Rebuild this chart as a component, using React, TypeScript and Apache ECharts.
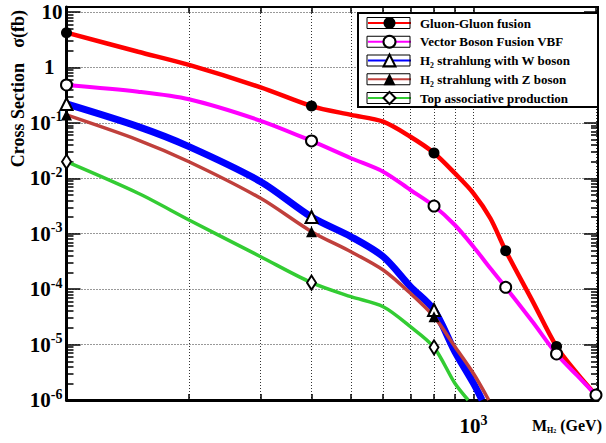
import React, { useEffect, useRef } from "react";
import * as echarts from "echarts";

// ---- data ----
const markerMasses = [100, 400, 800, 1200, 1600, 2000];

const ggfMass = [100, 150, 200, 300, 400, 500, 600, 700, 800, 900, 1000, 1100, 1200, 1400, 1600, 1800, 2000];
const ggfXsec = [4.24, 1.92, 1.11, 0.437, 0.201, 0.139, 0.105, 0.0562, 0.0286, 0.0123, 0.00536, 0.0019, 4.93e-4, 5.9e-5, 9.2e-6, 3.0e-6, 1.23e-6];

const vbfMass = [100, 150, 200, 300, 400, 500, 600, 700, 800, 900, 1000, 1100, 1200, 1400, 1600, 1800, 2000];
const vbfXsec = [0.482, 0.365, 0.266, 0.109, 0.0471, 0.023, 0.01315, 0.00615, 0.00316, 0.001436, 5.83e-4, 2.38e-4, 1.08e-4, 2.52e-5, 6.76e-6, 2.74e-6, 1.23e-6];

const whMass = [100, 150, 200, 300, 400, 500, 600, 700, 800, 900, 1000, 1050];
const whXsec = [0.219, 0.0853, 0.0372, 0.00867, 0.002, 8.83e-4, 3.85e-4, 1.11e-4, 4.2e-5, 7.5e-6, 2.0e-6, 1.0e-6];

const zhMass = [100, 150, 200, 300, 400, 500, 600, 700, 800, 900, 1000, 1090];
const zhXsec = [0.139, 0.049, 0.0199, 0.00435, 0.00109, 4.73e-4, 2.21e-4, 8.4e-5, 3.18e-5, 9.2e-6, 3.0e-6, 1.0e-6];

const ttMass = [100, 150, 200, 300, 400, 500, 600, 700, 800, 900, 970];
const ttXsec = [0.0199, 0.00536, 0.00177, 3.85e-4, 1.31e-4, 7.3e-5, 4.82e-5, 2.1e-5, 8.9e-6, 2.0e-6, 1.0e-6];

const xGridMasses = [200, 300, 400, 500, 600, 700, 800, 900, 1000, 2000];
const xLabelMasses = [1000];
const yDecades = [-6, -5, -4, -3, -2, -1, 0, 1];
const xRange = [100, 2023];
const yRange = [1e-6, 12.3];

const names = [
  "Gluon-Gluon fusion",
  "Vector Boson Fusion VBF",
  "H₂ strahlung with W boson",
  "H₂ strahlung with Z boson",
  "Top associative production",
];

// ---- helpers ----
const L = Math.log10;
const FONT = '"Liberation Serif", "Times New Roman", serif';

function toData(mass: number[], xs: number[]) {
  return mass.map((m, i) => {
    const item: any = { value: [L(m), L(xs[i])] };
    if (!markerMasses.includes(m)) item.symbol = "none";
    return item;
  });
}

const yMinor: number[] = [];
for (let n = -6; n <= 0; n++) {
  for (let k = 2; k <= 9; k++) yMinor.push(n + L(k));
}

const seriesDefs = [
  { name: names[0], mass: ggfMass, xs: ggfXsec, color: "#ff0000", width: 4.5, symbol: "circle", size: 11 },
  { name: names[1], mass: vbfMass, xs: vbfXsec, color: "#ff00ff", width: 4, symbol: "emptyCircle", size: 11 },
  { name: names[2], mass: whMass, xs: whXsec, color: "#0000ff", width: 7, symbol: "emptyTriangle", size: 12 },
  { name: names[3], mass: zhMass, xs: zhXsec, color: "#c0403c", width: 3.5, symbol: "triangle", size: 11 },
  { name: names[4], mass: ttMass, xs: ttXsec, color: "#33cc33", width: 3.5, symbol: "emptyDiamond", size: [9, 14] },
];

const X_MIN = L(xRange[0]);
const X_MAX = L(xRange[1]);
const Y_MIN = L(yRange[0]);
const Y_MAX = L(yRange[1]);

const tickRich = {
  b: { fontFamily: FONT, fontWeight: "bold", fontSize: 21, lineHeight: 26, color: "#000" },
  one: { fontFamily: FONT, fontWeight: "bold", fontSize: 21, lineHeight: 26, color: "#000", padding: [0, 8, 0, 0] },
  e: { fontFamily: FONT, fontWeight: "bold", fontSize: 14, lineHeight: 14, color: "#000", verticalAlign: "top" },
};

function yLabel(v: number) {
  const n = Math.round(v);
  if (Math.abs(v - n) > 1e-6) return "";
  if (n === 0) return "{one|1}";
  if (n === 1) return "{b|10}";
  return "{b|10}{e|" + n + "}";
}

function xLabel(v: number) {
  const p = Math.round(v);
  if (Math.abs(v - p) > 1e-6) return "";
  return "{b|10}{e|" + p + "}";
}

const legendRowH = 15;
const legendGap = 3.75;
const legendRowTop = 23 - legendRowH / 2;

export default function App() {
  const ref = useRef<HTMLDivElement>(null);
  useEffect(() => {
    if (!ref.current) return;
    const chart = echarts.init(ref.current, undefined, { renderer: "svg" });
    const tickLine = { color: "#000", width: 1.5 };
    const yAxisBase = { type: "value", min: Y_MIN, max: Y_MAX, interval: 1, gridIndex: 0 };
    const titleFont = 'bold 18px "Liberation Serif", serif';
    const option: any = {
      animation: false,
      backgroundColor: "#fff",
      grid: {
        left: 66.5, right: 8, top: 7, bottom: 43,
        show: true, borderColor: "#000", borderWidth: 2,
        outerBoundsMode: "none",
      },
      xAxis: [
        {
          type: "value", min: X_MIN, max: X_MAX, position: "bottom",
          axisLine: { show: true, onZero: false, lineStyle: { color: "#000", width: 3 } },
          axisTick: { show: true, inside: true, length: 6, customValues: xGridMasses.map(L), lineStyle: tickLine },
          axisLabel: { show: true, customValues: xLabelMasses.map(L), margin: 13, formatter: xLabel, rich: tickRich },
          splitLine: { show: true, lineStyle: { color: "#333", type: [1, 2], width: 1 } },
        },
        {
          type: "value", min: X_MIN, max: X_MAX, position: "top",
          axisLine: { show: true, onZero: false, lineStyle: { color: "#000", width: 2 } },
          axisTick: { show: true, inside: true, length: 6, customValues: xGridMasses.map(L), lineStyle: tickLine },
          axisLabel: { show: false },
          splitLine: { show: false },
        },
      ],
      yAxis: [
        {
          ...yAxisBase, position: "left",
          axisLine: { show: true, onZero: false, lineStyle: { color: "#000", width: 3 } },
          axisTick: { show: true, inside: true, length: 14, customValues: yDecades, lineStyle: tickLine },
          axisLabel: { show: true, customValues: yDecades, margin: 4, formatter: yLabel, rich: tickRich },
          splitLine: { show: true, lineStyle: { color: "#333", type: [1, 2], width: 1 } },
        },
        {
          ...yAxisBase, position: "left",
          axisLine: { show: false },
          axisTick: { show: true, inside: true, length: 7, customValues: yMinor, lineStyle: tickLine },
          axisLabel: { show: false },
          splitLine: { show: false },
        },
        {
          ...yAxisBase, position: "right",
          axisLine: { show: true, onZero: false, lineStyle: { color: "#000", width: 2 } },
          axisTick: { show: true, inside: true, length: 14, customValues: yDecades, lineStyle: tickLine },
          axisLabel: { show: false },
          splitLine: { show: false },
        },
        {
          ...yAxisBase, position: "right",
          axisLine: { show: false },
          axisTick: { show: true, inside: true, length: 7, customValues: yMinor, lineStyle: tickLine },
          axisLabel: { show: false },
          splitLine: { show: false },
        },
      ],
      legend: {
        orient: "vertical", left: 367, top: legendRowTop, padding: 0,
        itemGap: legendGap, itemWidth: 43, itemHeight: legendRowH,
        data: names, z: 6,
        selectedMode: false,
        textStyle: {
          fontFamily: FONT, fontWeight: "bold", fontSize: 13, color: "#000",
          lineHeight: legendRowH, height: legendRowH,
          padding: [0, 0, 0, 4],
        },
      },
      graphic: [
        {
          type: "rect", z: 3,
          shape: { x: 358, y: 13, width: 240, height: 94 },
          style: { fill: "#fff", stroke: "#000", lineWidth: 2 },
        },
        ...names.map((_, i) => ({
          type: "rect", z: 7, silent: true,
          shape: { x: 367, y: legendRowTop + i * (legendRowH + legendGap) + legendRowH / 2 - 5.5, width: 43, height: 11 },
          style: { fill: "none", stroke: "#000", lineWidth: 1 },
        })),
        {
          type: "text", x: 18, y: 10, rotation: Math.PI / 2, z: 5,
          style: {
            text: "σ(fb)", font: titleFont, fill: "#000",
            align: "right", textAlign: "right", verticalAlign: "middle", textVerticalAlign: "middle",
          },
        },
        {
          type: "text", x: 18, y: 63, rotation: Math.PI / 2, z: 5,
          style: {
            text: "Cross Section", font: titleFont, fill: "#000",
            align: "right", textAlign: "right", verticalAlign: "middle", textVerticalAlign: "middle",
          },
        },
        {
          type: "text", x: 602, y: 425, z: 5,
          style: {
            text: "{m|M}{s|H}{ss|2}{m| (GeV)}",
            align: "right", textAlign: "right", verticalAlign: "middle", textVerticalAlign: "middle",
            rich: {
              m: { fontFamily: FONT, fontWeight: "bold", fontSize: 16, lineHeight: 18, fill: "#000", color: "#000" },
              s: { fontFamily: FONT, fontWeight: "bold", fontSize: 8, lineHeight: 8, fill: "#000", color: "#000", verticalAlign: "bottom" },
              ss: { fontFamily: FONT, fontWeight: "bold", fontSize: 6, lineHeight: 6, fill: "#000", color: "#000", verticalAlign: "bottom" },
            },
          },
        },
      ],
      series: seriesDefs.map((d) => ({
        type: "line",
        name: d.name,
        xAxisIndex: 0,
        yAxisIndex: 0,
        data: toData(d.mass, d.xs),
        smooth: 0.3,
        symbol: d.symbol,
        symbolSize: d.size,
        showSymbol: true,
        clip: true,
        lineStyle: { color: d.color, width: d.width },
        itemStyle: { color: "#000", borderWidth: 1.2 },
        emphasis: { disabled: true },
      })),
    };
    chart.setOption(option);
    return () => chart.dispose();
  }, []);
  return (
    <div
      ref={ref}
      style={{ position: "absolute", left: 0, top: 0, width: 606, height: 443 }}
    />
  );
}
